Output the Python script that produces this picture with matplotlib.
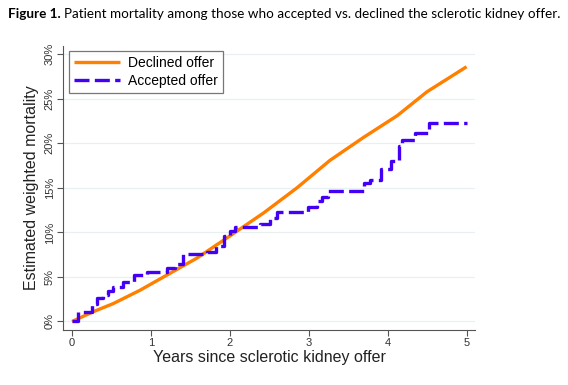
import matplotlib
matplotlib.use("Agg")
import matplotlib.pyplot as plt

# Declined offer: smooth cumulative mortality (years, %)
declined_years = [0, 0.27, 0.52, 0.86, 1.16, 1.58, 2.0, 2.43, 2.85, 3.27, 3.70, 4.12, 4.5, 5.0]
declined_mort = [0, 1.1, 2.0, 3.5, 5.0, 7.1, 9.6, 12.2, 15.0, 18.1, 20.7, 23.1, 25.8, 28.6]

# Accepted offer: step function (value holds from each time on)
accepted_years = [0, 0.07, 0.25, 0.31, 0.39, 0.46, 0.52, 0.65, 0.78, 0.95, 1.20, 1.30,
                  1.41, 1.71, 1.83, 1.92, 2.0, 2.06, 2.38, 2.51, 2.60, 2.99, 3.10, 3.17,
                  3.24, 3.70, 3.78, 3.91, 4.04, 4.14, 4.18, 4.35, 4.52, 5.0]
accepted_mort = [0, 1.1, 2.0, 2.6, 3.0, 3.4, 3.9, 4.4, 5.2, 5.6, 6.0, 6.5,
                 7.6, 7.8, 8.5, 9.6, 10.2, 10.6, 11.0, 11.6, 12.3, 12.9, 13.5, 14.0,
                 14.6, 15.6, 15.9, 17.1, 18.0, 19.7, 20.4, 21.2, 22.3, 22.3]

x_ticks = [0, 1, 2, 3, 4, 5]
y_ticks = [0, 5, 10, 15, 20, 25, 30]
y_labels = ["0%", "5%", "10%", "15%", "20%", "25%", "30%"]

plt.rcParams['font.family'] = ['Liberation Sans', 'DejaVu Sans']

fig = plt.figure(figsize=(5.68, 3.85), dpi=100)
ax = fig.add_axes([0.111, 0.143, 0.725, 0.738])

orange = '#ff8000'
blue = '#4400f5'

ax.plot(declined_years, declined_mort, color=orange, lw=2.4, label='Declined offer',
        solid_capstyle='butt', zorder=3)
ax.plot(accepted_years, accepted_mort, color=blue, lw=2.4, drawstyle='steps-post',
        dashes=(4.5, 1.6), label='Accepted offer', zorder=4)

ax.set_xlim(-0.114, 5.105)
ax.set_ylim(-0.95, 30.95)
ax.set_xticks(x_ticks)
ax.set_yticks(y_ticks)
ax.set_yticklabels(y_labels, rotation=90, va='center')
ax.tick_params(axis='both', labelsize=8, color='#555555', labelcolor='#333333',
               length=4, width=0.8, direction='out', pad=2)
ax.grid(axis='y', color='#e8f0f1', lw=0.9)
ax.set_axisbelow(True)

for side in ['top', 'right']:
    ax.spines[side].set_visible(False)
for side in ['left', 'bottom']:
    ax.spines[side].set_color('#555555')
    ax.spines[side].set_linewidth(0.8)

ax.set_xlabel('Years since sclerotic kidney offer', fontsize=11.5, color='#222222', labelpad=1)
ax.set_ylabel('Estimated weighted mortality', fontsize=11.5, color='#222222', labelpad=4)

leg = ax.legend(loc='upper left', bbox_to_anchor=(0.0146, 0.982), borderaxespad=0,
                fontsize=10, frameon=True, fancybox=False, handlelength=3.3,
                borderpad=0.35, labelspacing=0.3, handletextpad=0.6)
leg.get_frame().set_edgecolor('#555555')
leg.get_frame().set_linewidth(0.9)

# title: bold "Figure 1." followed by regular text
t1 = fig.text(0.014, 0.952, 'Figure 1.', fontsize=9.7, fontweight='bold',
              family=['Lato', 'DejaVu Sans'], va='baseline')
fig.canvas.draw()
bb = t1.get_window_extent()
x_next = (bb.x1 + 3) / fig.bbox.width
fig.text(x_next, 0.952, 'Patient mortality among those who accepted vs. declined the sclerotic kidney offer.',
         fontsize=9.7, family=['Lato', 'DejaVu Sans'], va='baseline')

fig.savefig('out.png', dpi=100)
